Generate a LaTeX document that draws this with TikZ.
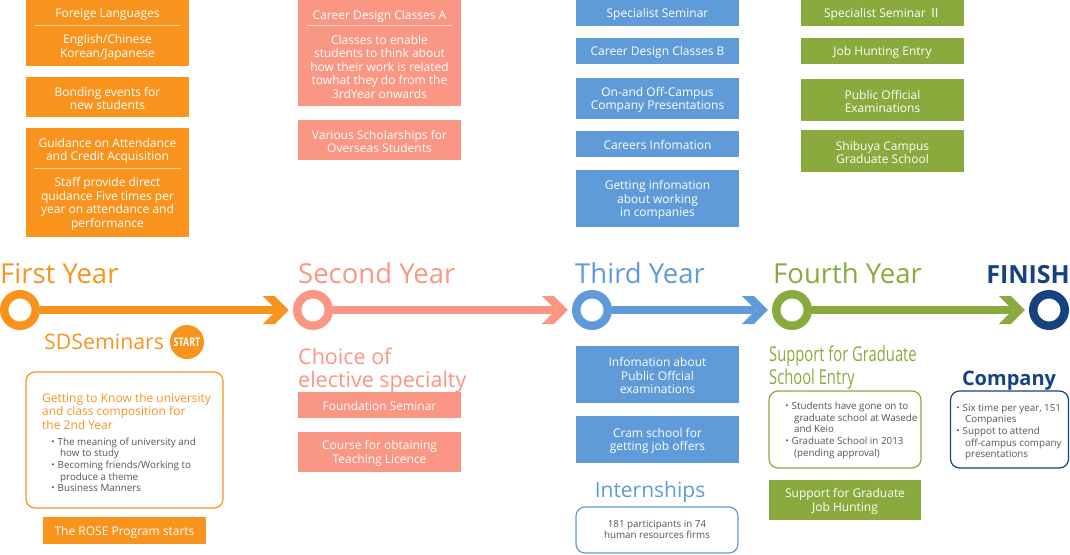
\documentclass[tikz,border=0pt]{standalone}
\usepackage{fontspec}
\setmainfont{Open Sans}
\newfontfamily\cjk{Noto Sans CJK JP}
\newfontfamily\condfont[FakeStretch=0.72]{Open Sans}
\newfontfamily\startfont[FakeStretch=0.74]{Open Sans}
\usetikzlibrary{calc}
\definecolor{cOr}{RGB}{248,148,30}
\definecolor{cSa}{RGB}{250,150,132}
\definecolor{cBl}{RGB}{94,155,216}
\definecolor{cGr}{RGB}{138,170,62}
\definecolor{cNv}{RGB}{22,66,128}
\definecolor{cTx}{RGB}{85,85,85}
\newcommand\boxfont{\fontsize{12}{13.5}\selectfont}
\newcommand\smallgray{\fontsize{9.8}{11.6}\selectfont}
\newcommand\bul{\makebox[9.5pt][c]{\cjk ・}}
\newcommand\cont{\hspace*{12pt}}
\newcommand\up{\rule{0pt}{12pt}}
\newcommand\chevr[2]{\fill[#1] ($(#2)+(-30.25,-14)$) -- ($(#2)+(-18.25,-14)$) -- ($(#2)+(-4.25,0)$) -- ($(#2)+(-18.25,14)$) -- ($(#2)+(-30.25,14)$) -- ($(#2)+(-16.25,0)$) -- cycle;}
\tikzset{
  box/.style={fill=#1, text=white, minimum width=163pt, inner sep=0pt, align=center, font=\boxfont},
  sepl/.style={draw=white!55!#1, line width=1pt},
  rbox/.style={draw=#1, line width=1.2pt, rounded corners=9pt, fill=white, inner sep=0pt},
  ring/.style={circle, draw=#1, line width=8.5pt, fill=white, minimum size=31.5pt, inner sep=0pt},
  seg/.style={draw=#1, line width=8.5pt},
  yearlab/.style={text=#1, anchor=base west, inner sep=0pt, font=\fontsize{27.5}{30}\selectfont},
  gtext/.style={text=cTx, inner sep=0pt, align=left, font=\smallgray, anchor=north west},
}
\begin{document}
\begin{tikzpicture}[x=1pt,y=-1pt]
\useasboundingbox (0,0) rectangle (1070,554);

% ---------- First year column ----------
\node[box=cOr, minimum height=66pt] (f1) at (107.5,33) {\up Foreige Languages\\[12.5pt]English/Chinese\\Korean/Japanese};
\draw[sepl=cOr] ($(f1.north west)+(9,26)$) -- ($(f1.north east)+(-9,26)$);
\node[box=cOr, minimum height=40pt] (f2) at (107.5,97) {\up Bonding events for\\new students};
\node[box=cOr, minimum height=109pt] (f3) at (107.5,182.5) {\up Guidance on Attendance\\and Credit Acquisition\\[12.5pt]Staff provide direct\\quidance Five times per\\year on attendance and\\performance};
\draw[sepl=cOr] ($(f3.north west)+(8,41)$) -- ($(f3.north east)+(-8,41)$);

% ---------- Second year column ----------
\node[box=cSa, minimum height=106pt] (s1) at (379.5,53) {\up Career Design Classes A\\[11.5pt]Classes to enable\\students to think about\\how their work is related\\towhat they do from the\\3rdYear onwards};
\draw[sepl=cSa] ($(s1.north west)+(9,26)$) -- ($(s1.north east)+(-9,26)$);
\node[box=cSa, minimum height=40pt] (s2) at (379.5,140) {\up Various Scholarships for\\Overseas Students};

% ---------- Third year column ----------
\node[box=cBl, minimum height=26pt] (b1) at (657.5,13) {\up Specialist Seminar};
\node[box=cBl, minimum height=26pt] (b2) at (657.5,51) {\up Career Design Classes B};
\node[box=cBl, minimum height=41pt] (b3) at (657.5,98.5) {\up On-and Off-Campus\\Company Presentations};
\node[box=cBl, minimum height=26pt] (b4) at (657.5,144) {\up Careers Infomation};
\node[box=cBl, minimum height=57pt] (b5) at (657.5,198.5) {\up Getting infomation\\about working\\in companies};

% ---------- Fourth year column ----------
\node[box=cGr, minimum height=26pt] (g1) at (882.5,13) {\up Specialist Seminar {\cjk Ⅱ}};
\node[box=cGr, minimum height=26pt] (g2) at (882.5,51) {\up Job Hunting Entry};
\node[box=cGr, minimum height=42pt] (g3) at (882.5,100) {\up Public Official\\Examinations};
\node[box=cGr, minimum height=42pt] (g4) at (882.5,151) {\up Shibuya Campus\\Graduate School};

% ---------- Timeline ----------
\node[yearlab=cOr] (t1) at (0,283) {First Year};
\node[yearlab=cSa] (t2) at (298,283) {Second Year};
\node[yearlab=cBl] (t3) at (575,283) {Third Year};
\node[yearlab=cGr] (t4) at (773,283) {Fourth Year};
\node[yearlab=cNv, anchor=base east, font=\fontsize{25}{27}\selectfont\bfseries] (t5) at (1070,283) {FINISH};

\node[ring=cOr] (y1) at (20,310) {};
\node[ring=cSa] (y2) at (313,310) {};
\node[ring=cBl] (y3) at (592,310) {};
\node[ring=cGr] (y4) at (792,310) {};
\node[ring=cNv] (y5) at (1049,310) {};

\draw[seg=cOr] (y1.east) -- ($(y2.west)+(-17,0)$);
\draw[seg=cSa] (y2.east) -- ($(y3.west)+(-17,0)$);
\draw[seg=cBl] (y3.east) -- ($(y4.west)+(-17,0)$);
\draw[seg=cGr] (y4.east) -- ($(y5.west)+(-17,0)$);
\chevr{cOr}{y2.west}
\chevr{cSa}{y3.west}
\chevr{cBl}{y4.west}
\chevr{cGr}{y5.west}

% ---------- First year lower ----------
\node[text=cOr, anchor=base west, inner sep=0pt, font=\fontsize{21.3}{23}\selectfont] (sd) at (44,349) {SDSeminars};
\node[circle, fill=cOr, minimum size=34pt, inner sep=0pt, text=white, font=\startfont\bfseries\fontsize{12}{12}\selectfont] (st) at (187,342) {START};
\node[rbox=cOr, minimum width=197pt, minimum height=136pt] (r1) at (124.5,440) {};
\node[anchor=north west, inner sep=0pt, align=left, text=cOr, font=\fontsize{12}{13.5}\selectfont] (r1h) at (42,393) {Getting to Know the university\\and class composition for\\the 2nd Year};
\node[gtext] (r1b) at (48,437.5) {\bul The meaning of university and\\\cont how to study\\\bul Becoming friends/Working to\\\cont produce a theme\\\bul Business Manners};
\node[box=cOr, minimum height=27pt] (rose) at (124.5,530.5) {\up The ROSE Program starts};

% ---------- Second year lower ----------
\node[text=cSa, anchor=north west, inner sep=0pt, align=left, font=\fontsize{21.5}{22.5}\selectfont] (ch) at (298,348) {Choice of\\elective specialty};
\node[box=cSa, minimum height=26pt] (s3) at (379.5,405) {\up Foundation Seminar};
\node[box=cSa, minimum height=40pt] (s4) at (379.5,452) {\up Course for obtaining\\Teaching Licence};

% ---------- Third year lower ----------
\node[box=cBl, minimum height=57pt] (b6) at (657.5,374.5) {\up Infomation about\\Public Offcial\\examinations};
\node[box=cBl, minimum height=47pt] (b7) at (657.5,439.5) {\up Cram school for\\getting job offers};
\node[text=cBl, anchor=base, inner sep=0pt, font=\fontsize{21}{23}\selectfont] (in) at (650,497) {Internships};
\node[rbox=cBl, minimum width=162pt, minimum height=46pt] (r2) at (657,530) {};
\node[gtext, anchor=center, align=center] (r2t) at (657,529.5) {181 participants in 74\\human resources firms};

% ---------- Fourth year lower ----------
\node[text=cGr, anchor=north west, inner sep=0pt, align=left, font=\condfont\fontsize{20.5}{22.5}\selectfont] (sg) at (769,346) {Support for Graduate\\School Entry};
\node[rbox=cGr, minimum width=152pt, minimum height=77pt] (r3) at (845,429.5) {};
\node[gtext] (r3t) at (782,402) {\bul Students have gone on to\\\cont graduate school at Wasede\\\cont and Keio\\\bul Graduate School in 2013\\\cont (pending approval)};
\node[box=cGr, minimum width=152pt, minimum height=40pt] (g5) at (845,500) {\up Support for Graduate\\Job Hunting};

% ---------- Company ----------
\node[text=cNv, anchor=base, inner sep=0pt, font=\fontsize{20}{22}\selectfont\bfseries] (co) at (1009,385) {Company};
\node[rbox=cNv, minimum width=118pt, minimum height=77pt] (r4) at (1009.5,429.5) {};
\node[gtext] (r4t) at (953,404) {\bul Six time per year, 151\\\cont Companies\\\bul Suppot to attend\\\cont off-campus company\\\cont presentations};
\end{tikzpicture}
\end{document}
